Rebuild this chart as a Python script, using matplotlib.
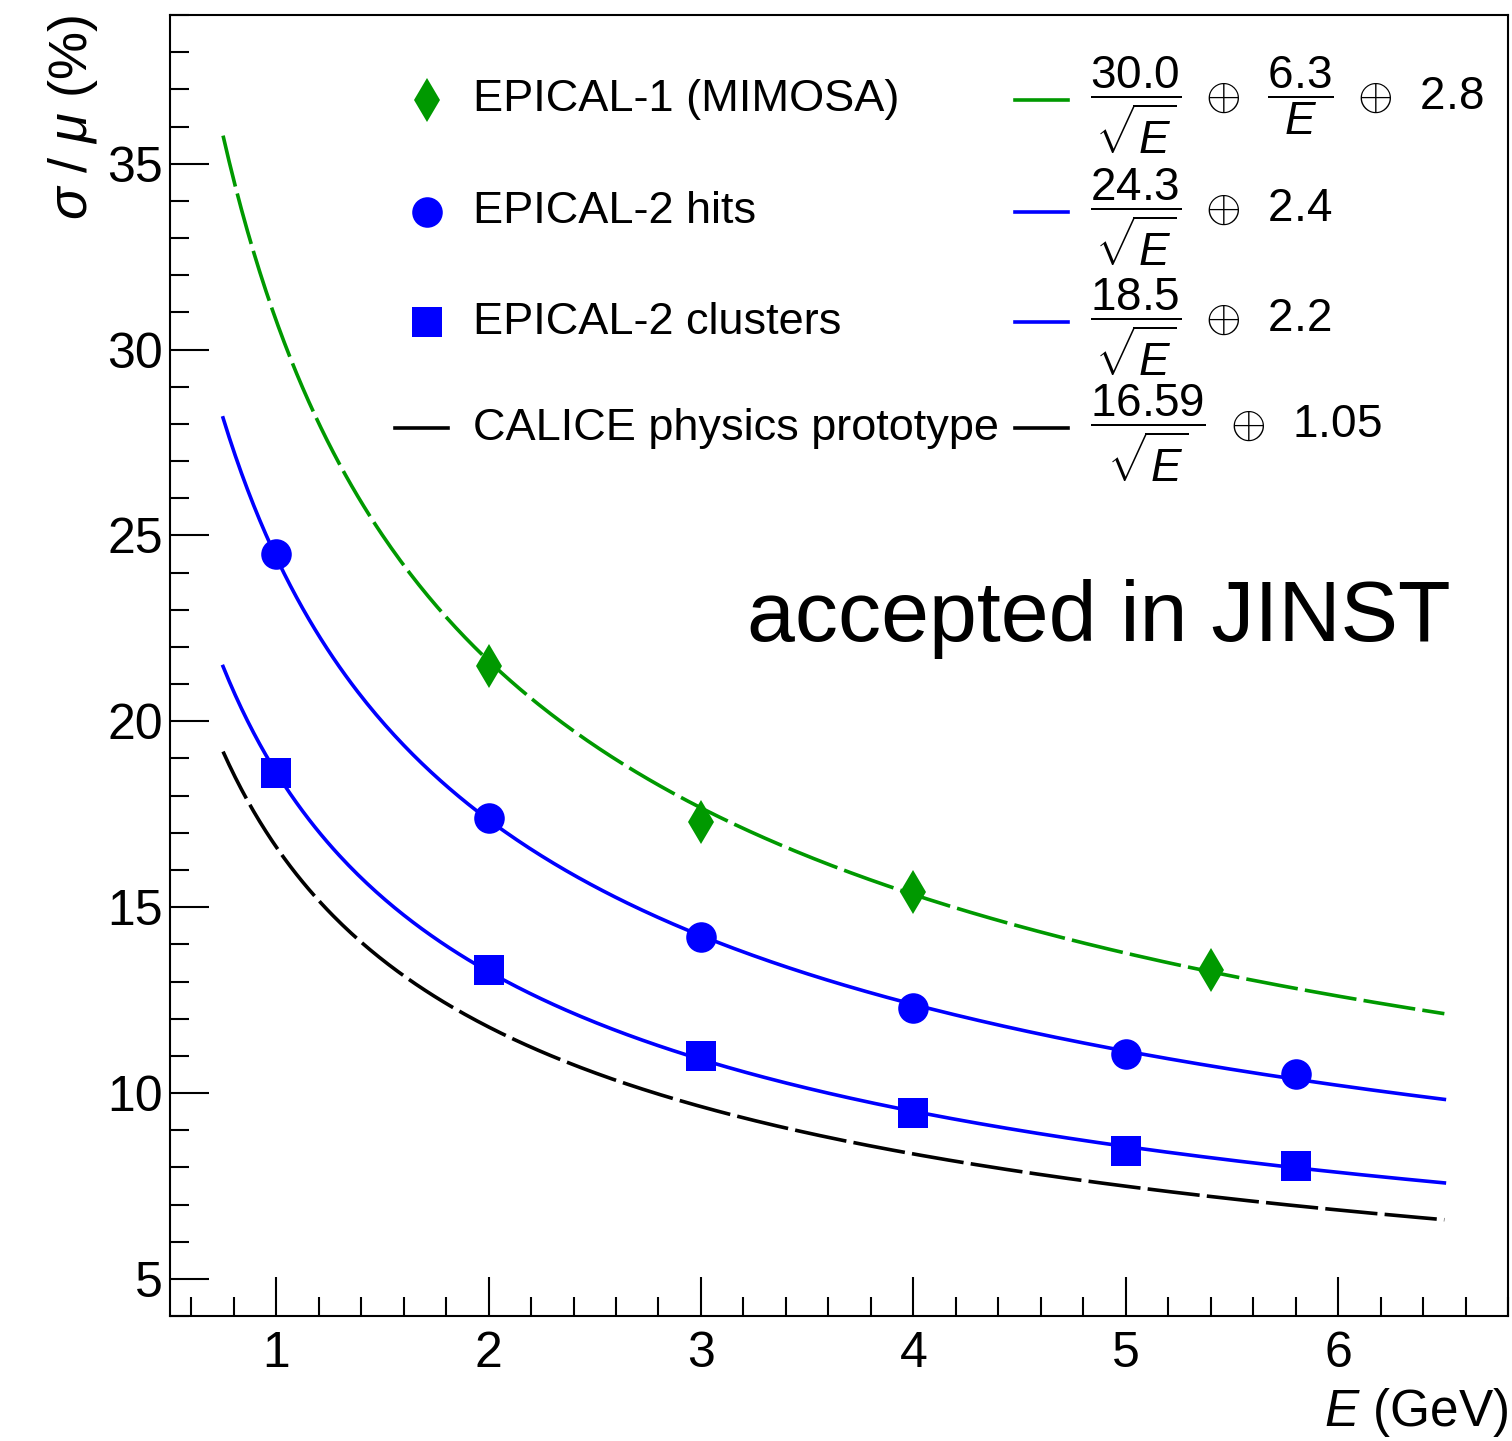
import numpy as np
import matplotlib.pyplot as plt
from matplotlib.ticker import MultipleLocator

plt.rcParams["font.family"] = ["Liberation Sans", "DejaVu Sans"]
plt.rcParams["mathtext.fontset"] = "custom"
plt.rcParams["mathtext.rm"] = "Liberation Sans"
plt.rcParams["mathtext.it"] = "Liberation Sans:italic"
plt.rcParams["mathtext.bf"] = "Liberation Sans:bold"

# measured points
energy_mimosa = [2, 3, 4, 5.4]
res_mimosa = [21.5, 17.3, 15.4, 13.3]
energy_epical2 = [1, 2, 3, 4, 5, 5.8]
res_hits = [24.5, 17.4, 14.2, 12.3, 11.05, 10.5]
res_clusters = [18.6, 13.3, 11.0, 9.45, 8.45, 8.05]

# fit parameters: stochastic, noise, constant (%)
fit_mimosa = (30.0, 6.3, 2.8)
fit_hits = (24.3, 0.0, 2.4)
fit_clusters = (18.5, 0.0, 2.2)
fit_calice = (16.59, 0.0, 1.05)

labels = ["EPICAL-1 (MIMOSA)", "EPICAL-2 hits", "EPICAL-2 clusters",
          "CALICE physics prototype"]
formulas = [
    r"$\dfrac{30.0}{\sqrt{E}}\ \oplus\ \,\dfrac{6.3}{E}\ \oplus\ \,2.8$",
    r"$\dfrac{24.3}{\sqrt{E}}\ \oplus\ \,2.4$",
    r"$\dfrac{18.5}{\sqrt{E}}\ \oplus\ \,2.2$",
    r"$\dfrac{16.59}{\sqrt{E}}\ \oplus\ \,1.05$",
]

green = "#009900"
blue = "#0000ff"
dash = (14.5, 2.0)


def resolution(E, par):
    a, b, c = par
    return np.sqrt((a / np.sqrt(E)) ** 2 + (b / E) ** 2 + c ** 2)


E = np.linspace(0.75, 6.5, 400)

fig = plt.figure(figsize=(15.12, 14.41), dpi=100)
ax = fig.add_axes([0.1124, 0.0867, 0.885, 0.9029])

lw = 2.6
ax.plot(E, resolution(E, fit_mimosa), color=green, lw=lw, dashes=dash)
ax.plot(E, resolution(E, fit_hits), color=blue, lw=lw)
ax.plot(E, resolution(E, fit_clusters), color=blue, lw=lw)
ax.plot(E, resolution(E, fit_calice), color="black", lw=lw, dashes=dash)

ax.plot(energy_mimosa, res_mimosa, "d", color=green, ms=22, mew=0)
ax.plot(energy_epical2, res_hits, "o", color=blue, ms=22, mew=0)
ax.plot(energy_epical2, res_clusters, "s", color=blue, ms=21, mew=0)

ax.set_xlim(0.5, 6.8)
ax.set_ylim(4, 39)
ax.set_xticks([1, 2, 3, 4, 5, 6])
ax.set_yticks([5, 10, 15, 20, 25, 30, 35])
ax.xaxis.set_minor_locator(MultipleLocator(0.2))
ax.yaxis.set_minor_locator(MultipleLocator(1))
ax.tick_params(which="both", direction="in", width=1.5, labelsize=36)
ax.tick_params(which="major", length=28)
ax.tick_params(which="minor", length=14)
ax.tick_params(axis="x", which="both", pad=11)
ax.tick_params(axis="y", which="both", pad=5)
for s in ax.spines.values():
    s.set_linewidth(1.5)

ax.set_xlabel(r"$E$ (GeV)", fontsize=37, loc="right", labelpad=6)
ax.set_ylabel(r"$\sigma\ $/$\ \mu$ (%)", fontsize=39, loc="top", labelpad=5)

# legend, left column
rows = [0.9347, 0.8486, 0.7640, 0.6825]
tr = ax.transAxes
ax.plot([0.192], [rows[0]], "d", color=green, ms=22, mew=0, transform=tr)
ax.plot([0.192], [rows[1]], "o", color=blue, ms=22, mew=0, transform=tr)
ax.plot([0.192], [rows[2]], "s", color=blue, ms=21, mew=0, transform=tr)
ax.plot([0.168, 0.208], [rows[3]] * 2, color="black", lw=lw, transform=tr)
for y, lab in zip(rows, labels):
    ax.text(0.2265, y, lab, fontsize=32.5, va="center", ha="left", transform=tr)

# legend, right column
line_colors = [green, blue, blue, "black"]
for y, col, f in zip(rows, line_colors, formulas):
    ax.plot([0.6315, 0.671], [y, y], color=col, lw=lw, transform=tr)
    ax.text(0.6875, y - 0.004, f, fontsize=33, va="center", ha="left",
            transform=tr)

ax.text(0.9567, 0.5188, "accepted in JINST", fontsize=62, ha="right",
        va="baseline", transform=tr)

fig.savefig("out.png", dpi=100)
